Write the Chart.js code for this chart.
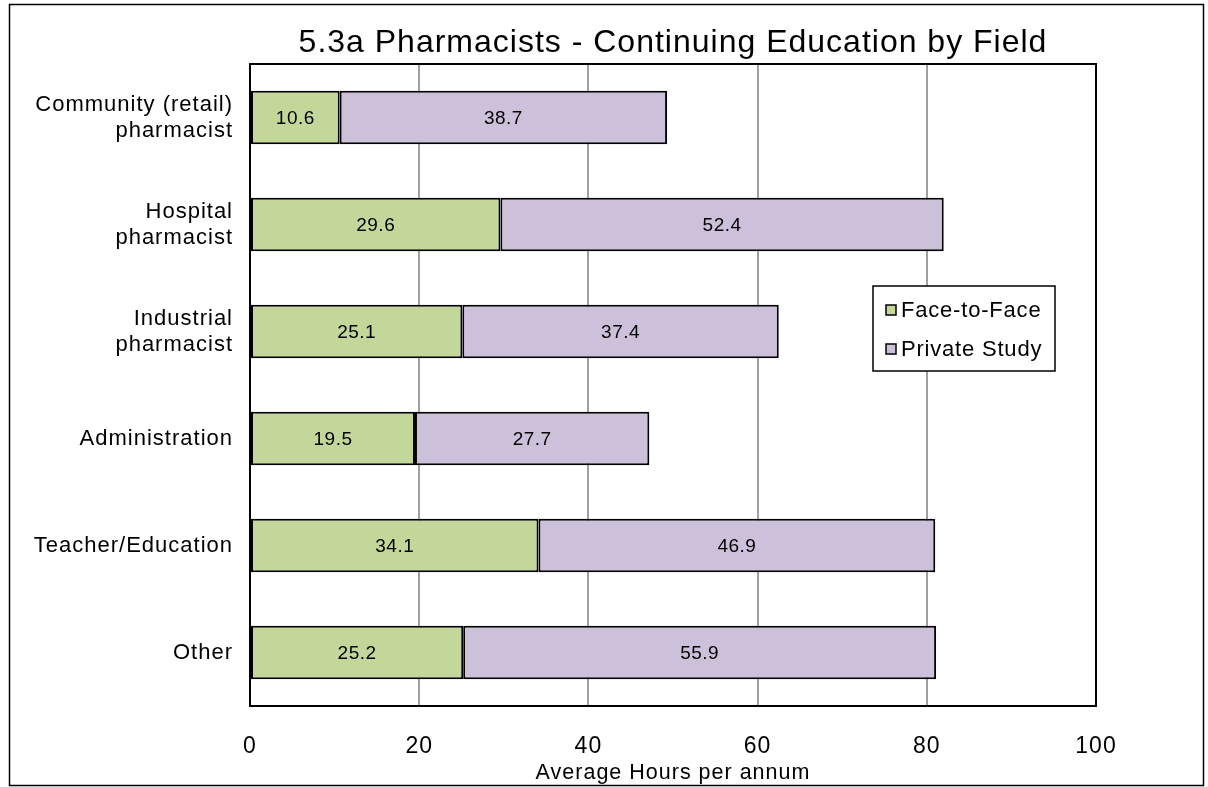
<!DOCTYPE html>
<html>
<head>
<meta charset="utf-8">
<script src="https://cdn.jsdelivr.net/npm/chart.js@4"></script>
<style>
  html, body { margin: 0; padding: 0; background: #fff; }
  #wrap { width: 1208px; height: 787px; }
</style>
</head>
<body>
<div id="wrap"><canvas id="barChart" width="1208" height="787"></canvas></div>
<script>
var fields = [["Community (retail)", "pharmacist"], ["Hospital", "pharmacist"], ["Industrial", "pharmacist"], "Administration", "Teacher/Education", "Other"];
var faceToFace = [10.6, 29.6, 25.1, 19.5, 34.1, 25.2];
var privateStudy = [38.7, 52.4, 37.4, 27.7, 46.9, 55.9];
var xTicks = [0, 20, 40, 60, 80, 100];

var FONT = "'Liberation Sans', Arial, sans-serif";

// frame, plot border, title, value labels and legend box
var decor = {
  id: 'decor',
  beforeDraw: function(chart) {
    var c = chart.ctx;
    c.save();
    c.fillStyle = '#fff';
    c.fillRect(0, 0, chart.width, chart.height);
    c.strokeStyle = '#000';
    c.lineWidth = 1.5;
    c.strokeRect(9.5, 4.5, 1194, 781);
    c.restore();
    // the reference text is spaced a bit wider than plain Arial
    c.letterSpacing = '1px';
  },
  afterDatasetsDraw: function(chart) {
    var c = chart.ctx, a = chart.chartArea;
    c.save();
    c.strokeStyle = '#000';
    c.lineWidth = 2;
    c.strokeRect(a.left, a.top, a.right - a.left, a.bottom - a.top);

    // title
    c.fillStyle = '#000';
    c.letterSpacing = '1px';
    c.font = '32px ' + FONT;
    c.textAlign = 'center';
    c.textBaseline = 'middle';
    c.fillText('5.3a Pharmacists - Continuing Education by Field', (a.left + a.right) / 2, 43);

    // values inside the bars
    c.letterSpacing = '0.5px';
    c.font = '19px ' + FONT;
    chart.data.datasets.forEach(function(ds, i) {
      chart.getDatasetMeta(i).data.forEach(function(bar, j) {
        var x = (bar.x + bar.base) / 2;
        c.fillText(ds.data[j].toFixed(1), x, bar.y + 1);
      });
    });

    // legend
    var lx = a.left + 623, ly = a.top + 222;
    c.fillStyle = '#fff';
    c.fillRect(lx, ly, 182, 85);
    c.lineWidth = 1.5;
    c.strokeRect(lx, ly, 182, 85);
    c.textAlign = 'left';
    c.letterSpacing = '0.8px';
    c.font = '22px ' + FONT;
    chart.data.datasets.forEach(function(ds, i) {
      var y = ly + 24 + i * 39;
      c.fillStyle = ds.backgroundColor;
      c.fillRect(lx + 13, y - 5, 10, 10);
      c.strokeStyle = '#000';
      c.lineWidth = 1.5;
      c.strokeRect(lx + 13, y - 5, 10, 10);
      c.fillStyle = '#000';
      c.fillText(ds.label, lx + 28, y + 1);
    });
    c.restore();
  }
};

new Chart(document.getElementById('barChart').getContext('2d'), {
  type: 'bar',
  data: {
    labels: fields,
    datasets: [
      {
        label: 'Face-to-Face',
        data: faceToFace,
        backgroundColor: '#c4d79b',
        borderColor: '#000',
        borderWidth: 2,
        borderSkipped: false,
        barPercentage: 0.5,
        categoryPercentage: 1
      },
      {
        label: 'Private Study',
        data: privateStudy,
        backgroundColor: '#ccc0da',
        borderColor: '#000',
        borderWidth: 2,
        borderSkipped: false,
        barPercentage: 0.5,
        categoryPercentage: 1
      }
    ]
  },
  options: {
    indexAxis: 'y',
    responsive: false,
    animation: false,
    layout: { padding: { top: 64, right: 112, left: 0, bottom: 0 } },
    plugins: {
      legend: { display: false },
      tooltip: { enabled: false }
    },
    scales: {
      x: {
        stacked: true,
        min: 0,
        max: 100,
        afterBuildTicks: function(scale) {
          scale.ticks = xTicks.map(function(v) { return { value: v }; });
        },
        afterFit: function(scale) { scale.height = 81; },
        grid: { color: '#a0a0a0', lineWidth: 2, drawTicks: false },
        border: { display: false },
        ticks: { color: '#000', padding: 27, font: { family: FONT, size: 23 } },
        title: {
          display: true,
          text: 'Average Hours per annum',
          color: '#000',
          padding: { top: 0, bottom: 1 },
          font: { family: FONT, size: 21.5 }
        }
      },
      y: {
        stacked: true,
        afterFit: function(scale) { scale.width = 250; },
        grid: { display: false, drawTicks: false },
        border: { display: false },
        ticks: {
          color: '#000',
          padding: 17,
          font: { family: FONT, size: 22, lineHeight: 1.18 }
        }
      }
    }
  },
  plugins: [decor]
});
</script>
</body>
</html>
